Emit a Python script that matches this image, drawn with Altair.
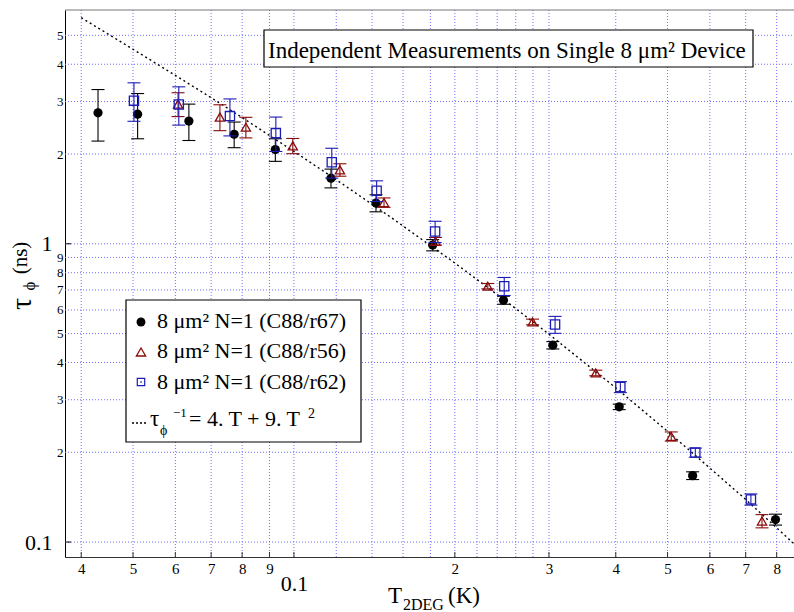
import altair as alt
import pandas as pd

# ---------------- data ----------------
T_r67 = [0.0430, 0.0510, 0.0636, 0.0773, 0.0923, 0.1173, 0.1424, 0.1818, 0.2466, 0.305, 0.406, 0.557, 0.796]
tau_r67 = [2.75, 2.72, 2.58, 2.33, 2.07, 1.66, 1.37, 0.99, 0.647, 0.457, 0.284, 0.167, 0.119]
err_r67 = [0.54, 0.47, 0.36, 0.23, 0.18, 0.12, 0.09, 0.043, 0.02, 0.013, 0.006, 0.005, 0.005]

T_r56 = [0.0607, 0.0727, 0.0813, 0.0995, 0.1219, 0.1474, 0.184, 0.2305, 0.2795, 0.367, 0.508, 0.751]
tau_r56 = [2.94, 2.66, 2.46, 2.13, 1.77, 1.375, 1.02, 0.721, 0.547, 0.369, 0.226, 0.1176]
err_r56 = [0.27, 0.265, 0.195, 0.125, 0.085, 0.05, 0.03, 0.015, 0.012, 0.008, 0.008, 0.006]

T_r62 = [0.0502, 0.0609, 0.0759, 0.0925, 0.1177, 0.1428, 0.1837, 0.2474, 0.308, 0.408, 0.5635, 0.716]
tau_r62 = [3.02, 2.93, 2.68, 2.35, 1.876, 1.506, 1.10, 0.721, 0.536, 0.331, 0.1995, 0.139]
err_r62 = [0.445, 0.43, 0.38, 0.31, 0.215, 0.12, 0.09, 0.05, 0.035, 0.014, 0.007, 0.006]

fit_T = [0.04, 0.05, 0.06, 0.07, 0.08, 0.1, 0.12, 0.15, 0.2, 0.25, 0.3, 0.4, 0.5, 0.6, 0.7, 0.8, 0.86]
fit_tau = [5.73, 4.49, 3.67, 3.09, 2.65, 2.04, 1.64, 1.246, 0.862, 0.64, 0.4975, 0.329, 0.235, 0.177, 0.139, 0.1116, 0.099]

x_grid = [0.04, 0.05, 0.06, 0.07, 0.08, 0.09, 0.1, 0.12, 0.14, 0.16, 0.18, 0.2,
          0.22, 0.24, 0.26, 0.28, 0.3, 0.4, 0.5, 0.6, 0.7, 0.8]
y_grid = [0.1, 0.2, 0.3, 0.4, 0.5, 0.6, 0.7, 0.8, 0.9, 1, 2, 3, 4, 5]
x_ticks = [0.04, 0.05, 0.06, 0.07, 0.08, 0.09, 0.1, 0.2, 0.3, 0.4, 0.5, 0.6, 0.7, 0.8]
y_ticks = [0.1, 0.2, 0.3, 0.4, 0.5, 0.6, 0.7, 0.8, 0.9, 1, 2, 3, 4, 5]
y_major = [0.1, 1]

legend_labels = ["8 μm² N=1 (C88/r67)", "8 μm² N=1 (C88/r56)", "8 μm² N=1 (C88/r62)"]
title_text = "Independent Measurements on Single 8 μm² Device"

# ---------------- layout / style ----------------
W, H = 729, 547
FONT = "Liberation Serif"
BLACK, RED, BLUE = "#000000", "#8b0a0a", "#1c1cb4"
GRID = "#7070ff"

xs = alt.Scale(type="log", domain=[0.0373, 0.862], nice=False)
ys = alt.Scale(type="log", domain=[0.0891, 6.08], nice=False)

xaxis = alt.Axis(
    values=x_ticks, title=None, grid=False, ticks=False,
    domainColor="#333333", domainWidth=1,
    labelFont=FONT, labelColor="black", labelOverlap=False, labelFlush=False,
    labelBaseline="top",
    labelExpr="datum.value == 0.1 ? '0.1' : (datum.value < 0.1 ? format(datum.value*100, '.0f') : format(datum.value*10, '.0f'))",
    labelFontSize={"condition": {"test": "datum.value == 0.1", "value": 22}, "value": 15},
    labelPadding={"condition": {"test": "datum.value == 0.1", "value": 16}, "value": 4},
)
yaxis = alt.Axis(
    values=y_ticks, title=None, grid=False, ticks=False,
    domainColor="#000000", domainWidth=1,
    labelFont=FONT, labelColor="black", labelOverlap=False, labelFlush=False,
    labelExpr="datum.value == 1 ? '1' : (datum.value == 0.1 ? '0.1' : (datum.value < 1 ? format(datum.value*10, '.0f') : format(datum.value, '.0f')))",
    labelFontSize={"condition": {"test": "datum.value == 1 || datum.value == 0.1", "value": 22}, "value": 13},
    labelPadding={"condition": {"test": "datum.value == 1 || datum.value == 0.1", "value": 13}, "value": 2},
)

one = pd.DataFrame({"a": [0]})

def X(field="v"):
    return alt.X(f"{field}:Q", scale=xs, axis=xaxis)

def Y(field="v"):
    return alt.Y(f"{field}:Q", scale=ys, axis=yaxis)

# grid
xg = alt.Chart(pd.DataFrame({"v": x_grid})).mark_rule(
    color=GRID, strokeDash=[1, 2], strokeWidth=1).encode(x=X(), y=alt.value(0), y2=alt.value(H))
yg = alt.Chart(pd.DataFrame({"v": y_grid})).mark_rule(
    color=GRID, strokeDash=[1, 2], strokeWidth=1).encode(y=Y(), x=alt.value(0), x2=alt.value(W))
top_border = alt.Chart(one).mark_rule(color="#777777", strokeWidth=1).encode(
    x=alt.value(0), x2=alt.value(W), y=alt.value(0))
xt = alt.Chart(pd.DataFrame({"v": x_ticks})).mark_rule(color="#333333", strokeWidth=1).encode(
    x=X(), y=alt.value(H), y2=alt.value(H - 5))
yt = alt.Chart(pd.DataFrame({"v": y_major})).mark_rule(color="black", strokeWidth=1).encode(
    y=Y(), x=alt.value(0), x2=alt.value(6))

# fit line
fit = alt.Chart(pd.DataFrame({"T": fit_T, "tau": fit_tau})).mark_line(
    color="black", strokeDash=[2, 3], strokeWidth=1.4).encode(x=X("T"), y=Y("tau"))

def series(T, tau, err, color, shape, filled, size):
    df = pd.DataFrame({"T": T, "tau": tau,
                       "lo": [t - e for t, e in zip(tau, err)],
                       "hi": [t + e for t, e in zip(tau, err)]})
    base = alt.Chart(df)
    bar = base.mark_rule(color=color, strokeWidth=1.1).encode(x=X("T"), y=Y("lo"), y2="hi")
    cap_hi = base.mark_rule(color=color, strokeWidth=1.1, xOffset=-6.5, x2Offset=6.5).encode(
        x=X("T"), x2="T", y=Y("hi"))
    cap_lo = base.mark_rule(color=color, strokeWidth=1.1, xOffset=-6.5, x2Offset=6.5).encode(
        x=X("T"), x2="T", y=Y("lo"))
    if filled:
        pts = base.mark_point(shape=shape, filled=True, size=size, color=color, opacity=1).encode(
            x=X("T"), y=Y("tau"))
    else:
        pts = base.mark_point(shape=shape, filled=False, size=size, color=color,
                              strokeWidth=1.3, opacity=1).encode(x=X("T"), y=Y("tau"))
    return [bar, cap_hi, cap_lo, pts]

s67 = series(T_r67, tau_r67, err_r67, BLACK, "circle", True, 85)
s62 = series(T_r62, tau_r62, err_r62, BLUE, "square", False, 85)
s56 = series(T_r56, tau_r56, err_r56, RED, "triangle-up", False, 85)

def txt(s, x, y, size, align="left", baseline="alphabetic", angle=0):
    return alt.Chart(one).mark_text(font=FONT, fontSize=size, align=align, baseline=baseline,
                                    angle=angle, color="black", fill="black").encode(
        x=alt.value(x), y=alt.value(y), text=alt.value(s))

# title box
tbox = alt.Chart(one).mark_rect(fill="white", stroke="black", strokeWidth=1.2).encode(
    x=alt.value(199), x2=alt.value(688), y=alt.value(20), y2=alt.value(57))
ttxt = txt(title_text, 203, 48, 23)

# legend
lbox = alt.Chart(one).mark_rect(fill="white", stroke="black", strokeWidth=1.2).encode(
    x=alt.value(61), x2=alt.value(296), y=alt.value(290), y2=alt.value(432))
lm1 = alt.Chart(one).mark_point(shape="circle", filled=True, size=80, color=BLACK, opacity=1).encode(
    x=alt.value(76), y=alt.value(312))
lm2 = alt.Chart(one).mark_point(shape="triangle-up", filled=False, size=85, color=RED,
                                strokeWidth=1.3, opacity=1).encode(x=alt.value(76), y=alt.value(342))
lm3 = alt.Chart(one).mark_point(shape="square", filled=False, size=55, color=BLUE,
                                strokeWidth=1.2, opacity=1).encode(x=alt.value(76), y=alt.value(372))
lm3d = alt.Chart(one).mark_point(shape="square", filled=True, size=2, color=BLUE, opacity=1).encode(
    x=alt.value(76), y=alt.value(372))
lline = alt.Chart(one).mark_rule(color="black", strokeDash=[2, 2], strokeWidth=1.3).encode(
    x=alt.value(67), x2=alt.value(83), y=alt.value(413))
lt = [txt(legend_labels[0], 92, 318, 22),
      txt(legend_labels[1], 92, 348, 22),
      txt(legend_labels[2], 92, 379, 22),
      txt("τ", 85, 416, 23),
      txt("ϕ", 95, 425, 14),
      txt("−1", 108, 407, 13),
      txt("= 4. T + 9. T", 124, 416, 22),
      txt("2", 243, 408, 14)]

# axis titles
ylab = [txt("(ns)", -44, 248, 21, align="center", baseline="middle", angle=270),
        txt("τ", -43, 294, 30, align="center", baseline="middle", angle=270),
        txt("ϕ", -35, 276, 17, align="center", baseline="middle", angle=270)]
xlab = [txt("T", 323, 593, 23),
        txt("2DEG", 338, 600, 16),
        txt("(K)", 383, 593, 23)]

layers = [xg, yg, top_border, xt, yt, fit] + s67 + s56 + s62 + [tbox, ttxt, lbox, lm1, lm2, lm3, lm3d, lline] + lt + ylab + xlab

chart = alt.layer(*layers).properties(
    width=W, height=H,
    padding={"left": 65, "top": 10, "right": 0, "bottom": 55},
    autosize=alt.AutoSizeParams(type="none"),
    background="white",
).configure_view(strokeWidth=0)

chart.save("out.html", embed_options={"renderer": "svg", "actions": False})
